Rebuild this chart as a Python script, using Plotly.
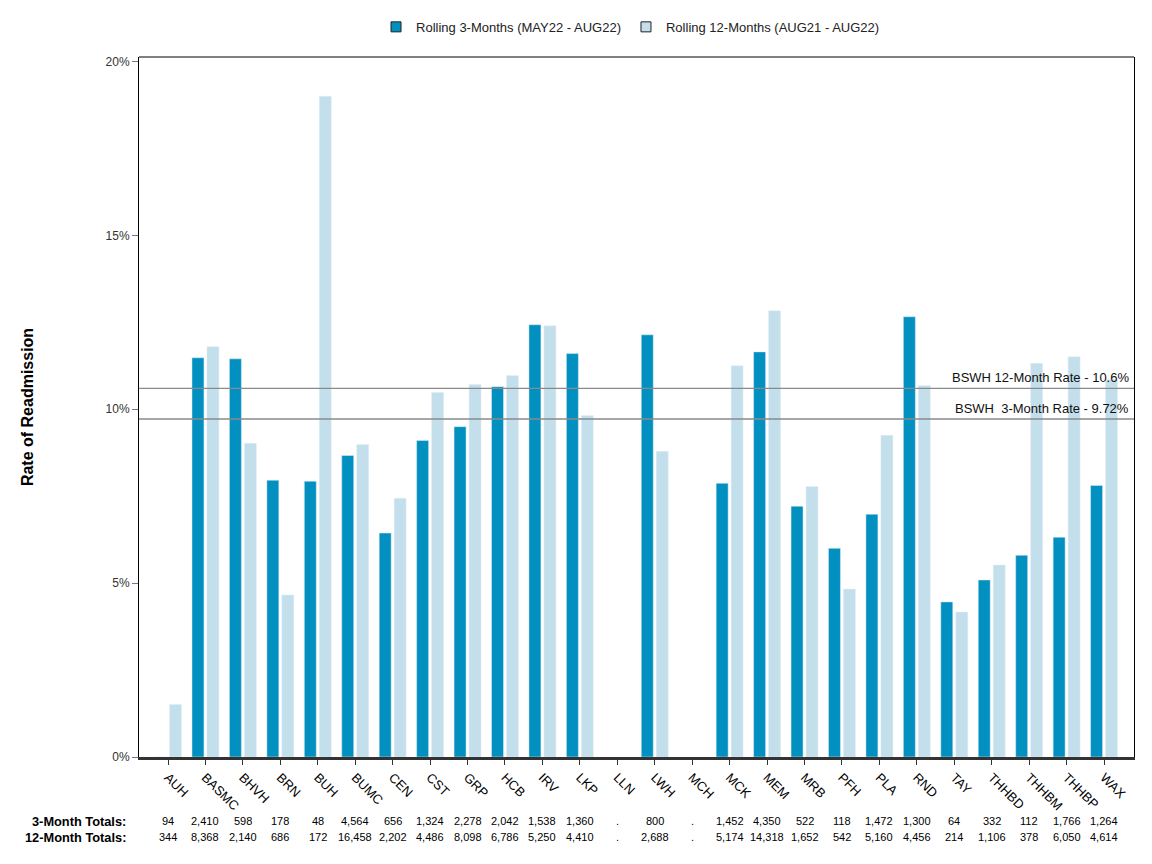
import plotly.graph_objects as go

# facilities
categories = ["AUH", "BASMC", "BHVH", "BRN", "BUH", "BUMC", "CEN", "CST", "GRP", "HCB",
              "IRV", "LKP", "LLN", "LWH", "MCH", "MCK", "MEM", "MRB", "PFH", "PLA",
              "RND", "TAY", "THHBD", "THHBM", "THHBP", "WAX"]

# readmission rates (%)
rate_3m = [0.0, 11.48, 11.45, 7.96, 7.93, 8.67, 6.44, 9.10, 9.50, 10.65,
           12.43, 11.60, None, 12.14, None, 7.87, 11.65, 7.21, 6.00, 6.98,
           12.66, 4.46, 5.09, 5.80, 6.32, 7.81]
rate_12m = [1.51, 11.80, 9.02, 4.66, 19.00, 8.99, 7.44, 10.48, 10.71, 10.97,
            12.40, 9.82, None, 8.79, None, 11.25, 12.83, 7.78, 4.83, 9.25,
            10.68, 4.17, 5.52, 11.32, 11.51, 10.85]

# discharge totals
totals_3m = [94, 2410, 598, 178, 48, 4564, 656, 1324, 2278, 2042,
             1538, 1360, None, 800, None, 1452, 4350, 522, 118, 1472,
             1300, 64, 332, 112, 1766, 1264]
totals_12m = [344, 8368, 2140, 686, 172, 16458, 2202, 4486, 8098, 6786,
              5250, 4410, None, 2688, None, 5174, 14318, 1652, 542, 5160,
              4456, 214, 1106, 378, 6050, 4614]

system_rate_12m = 10.6
system_rate_3m = 9.72

name_3m = "Rolling 3-Months (MAY22 - AUG22)"
name_12m = "Rolling 12-Months (AUG21 - AUG22)"

dark_blue = "#0190c0"
light_blue = "#c3dfeb"
font_family = "Liberation Sans, Arial, sans-serif"

fig = go.Figure()

fig.add_trace(go.Bar(x=categories, y=rate_3m, name=name_3m,
                     marker=dict(color=dark_blue), showlegend=False))
fig.add_trace(go.Bar(x=categories, y=rate_12m, name=name_12m,
                     marker=dict(color=light_blue), showlegend=False))

# legend entries with outlined squares
for name, color in [(name_3m, dark_blue), (name_12m, light_blue)]:
    fig.add_trace(go.Scatter(x=[None], y=[None], mode="markers", name=name,
                             marker=dict(symbol="square", size=10, color=color,
                                         line=dict(color="#222", width=1))))

# system rate lines
for val, label in [(system_rate_12m, "BSWH 12-Month Rate - 10.6%"),
                   (system_rate_3m, "BSWH \u00a03-Month Rate - 9.72%")]:
    fig.add_shape(type="line", xref="paper", yref="y", x0=0, x1=1, y0=val, y1=val,
                  line=dict(color="#8a8a8a", width=1.3), layer="above")
    fig.add_annotation(xref="paper", yref="y", x=1, y=val, text=label,
                       showarrow=False, xanchor="right", yanchor="bottom",
                       xshift=-3, yshift=1, font=dict(size=13, color="#111"))

# top border
fig.add_shape(type="line", xref="paper", yref="paper", x0=0, x1=1, y0=1, y1=1,
              line=dict(color="black", width=1))

# totals table below axis
def fmt(v):
    return "." if v is None else f"{v:,}"

row_y = [-0.092, -0.1145]
fig.add_annotation(xref="paper", yref="paper", x=-0.011, y=row_y[0], text="<b>3-Month Totals:</b>",
                   showarrow=False, xanchor="right", yanchor="middle",
                   font=dict(size=12.8, color="black"))
fig.add_annotation(xref="paper", yref="paper", x=-0.011, y=row_y[1], text="<b>12-Month Totals:</b>",
                   showarrow=False, xanchor="right", yanchor="middle",
                   font=dict(size=12.8, color="black"))
for cat, a, b in zip(categories, totals_3m, totals_12m):
    fig.add_annotation(xref="x", yref="paper", x=cat, y=row_y[0], text=fmt(a),
                       showarrow=False, yanchor="middle", font=dict(size=11, color="black"))
    fig.add_annotation(xref="x", yref="paper", x=cat, y=row_y[1], text=fmt(b),
                       showarrow=False, yanchor="middle", font=dict(size=11, color="black"))

fig.update_layout(
    width=1152, height=864,
    margin=dict(l=139, r=18, t=53, b=107),
    paper_bgcolor="white", plot_bgcolor="white",
    font=dict(family=font_family, size=12, color="#222"),
    barmode="group", bargap=0.2, bargroupgap=0.2,
    legend=dict(orientation="h", x=0.494, xanchor="center", y=1.043, yanchor="middle",
                font=dict(size=13, color="#222"), itemclick=False),
    xaxis=dict(type="category", range=[-0.775, 25.8], tickangle=45,
               showgrid=False, showline=True, linecolor="#333", linewidth=2.5,
               ticks="outside", ticklen=5, tickcolor="#333",
               tickfont=dict(size=13, color="black")),
    yaxis=dict(range=[0, 20.13], tickvals=[0, 5, 10, 15, 20],
               ticktext=["0%", "5%", "10%", "15%", "20%"],
               showgrid=False, zeroline=False, showline=True, linecolor="black",
               linewidth=1, mirror=True, ticks="outside", ticklen=6, tickcolor="#777",
               tickfont=dict(size=12, color="#333"),
               title=dict(text="<b>Rate of Readmission</b>", font=dict(size=16, color="black"),
                          standoff=67)),
)

fig.write_html("out.html", config={"displayModeBar": False},
               post_script="document.body.style.margin='0';")
